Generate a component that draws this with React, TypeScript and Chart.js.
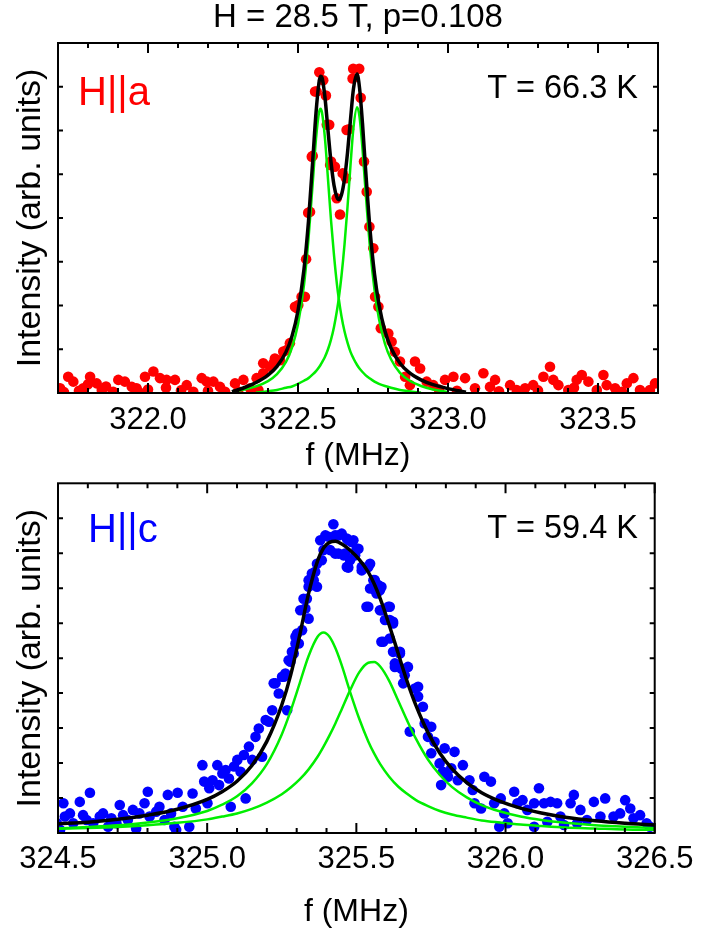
import React, { useEffect, useRef } from 'react';
import { Chart, registerables } from 'chart.js';

Chart.register(...registerables);

const FONT = '"Liberation Sans", Arial, Helvetica, sans-serif';
const GREEN = '#00ee00';

// ---------------- top panel (H || a) ----------------
const topTickLabels = ['322.0', '322.5', '323.0', '323.5'];

const topFreq = [
  321.707, 321.72, 321.734, 321.751, 321.77, 321.784, 321.80, 321.807, 321.829, 321.846, 321.86, 321.884,
  321.901, 321.923, 321.946, 321.962, 321.97, 321.99, 322.00, 322.018, 322.04, 322.06, 322.062, 322.09,
  322.11, 322.129, 322.151, 322.179, 322.196, 322.20, 322.218, 322.24, 322.257, 322.29, 322.30, 322.318,
  322.34, 322.362, 322.368, 322.384, 322.384, 322.407, 322.418, 322.423, 322.44, 322.451, 322.462, 322.473,
  322.49, 322.496, 322.501, 322.512, 322.523, 322.527, 322.534, 322.54, 322.546, 322.549, 322.557, 322.562,
  322.571, 322.584, 322.593, 322.596, 322.604, 322.607, 322.61, 322.623, 322.629, 322.64, 322.649, 322.66,
  322.662, 322.67, 322.682, 322.684, 322.704, 322.709, 322.72, 322.729, 322.738, 322.751, 322.757, 322.768,
  322.776, 322.801, 322.812, 322.823, 322.84, 322.857, 322.873, 322.89, 322.907, 322.929, 322.951, 322.97,
  322.99, 323.018, 323.03, 323.057, 323.09, 323.118, 323.14, 323.157, 323.17, 323.207, 323.229, 323.257,
  323.284, 323.30, 323.318, 323.34, 323.351, 323.368, 323.401, 323.42, 323.429, 323.446, 323.468, 323.496,
  323.518, 323.529, 323.557, 323.58, 323.596, 323.618, 323.64, 323.673, 323.69,
];
const topIntensity = [
  0.11, 0.02, 0.37, 0.26, 0.05, 0.11, 0.20, 0.37, 0.22, 0.07, 0.15, 0.03,
  0.30, 0.26, 0.14, 0.11, 0.02, 0.37, 0.08, 0.49, 0.34, 0.12, 0.30, 0.30,
  0.06, 0.18, 0.03, 0.34, 0.26, 0.05, 0.26, 0.14, 0.03, 0.22, 0.04, 0.30,
  0.11, 0.34, 0.07, 0.45, 0.68, 0.60, 0.68, 0.79, 0.75, 0.95, 0.98, 1.14,
  1.97, 1.94, 2.01, 2.20, 2.20, 3.06, 4.12, 4.14, 5.40, 5.42, 6.89, 6.89,
  7.33, 7.15, 6.80, 6.13, 6.13, 5.21, 5.29, 5.17, 4.45, 4.08, 5.02, 4.91,
  6.01, 6.03, 7.19, 7.41, 7.41, 6.75, 5.29, 4.60, 3.80, 3.31, 2.20, 1.97,
  1.48, 1.36, 1.17, 0.94, 0.72, 0.37, 0.18, 0.72, 0.56, 0.26, 0.18, 0.08,
  0.30, 0.37, 0.05, 0.34, 0.11, 0.45, 0.14, 0.30, 0.04, 0.18, 0.07, 0.11,
  0.18, 0.06, 0.37, 0.60, 0.30, 0.18, 0.07, 0.12, 0.30, 0.41, 0.26, 0.07,
  0.41, 0.18, 0.11, 0.03, 0.22, 0.34, 0.07, 0.07, 0.22,
];

const topFitFreq = [
  322.28, 322.32, 322.36, 322.40, 322.43, 322.46, 322.48, 322.50, 322.52, 322.535, 322.55, 322.56, 322.57,
  322.575, 322.58, 322.59, 322.60, 322.61, 322.62, 322.63, 322.636, 322.645, 322.655, 322.665, 322.675,
  322.685, 322.697, 322.705, 322.715, 322.725, 322.74, 322.755, 322.77, 322.79, 322.81, 322.84, 322.87,
  322.91, 322.95, 323.00, 323.06,
];
const topFitTotal = [
  0.03, 0.12, 0.24, 0.41, 0.61, 0.94, 1.30, 1.88, 2.83, 3.93, 5.40, 6.40, 7.10,
  7.24, 7.21, 6.75, 6.00, 5.28, 4.75, 4.47, 4.42, 4.53, 4.89, 5.49, 6.25,
  6.96, 7.29, 6.98, 6.16, 5.14, 3.74, 2.72, 2.02, 1.41, 1.03, 0.68, 0.47,
  0.30, 0.19, 0.10, 0.02,
];
const topFitPeak1 = [
  0.03, 0.08, 0.15, 0.27, 0.43, 0.71, 1.04, 1.57, 2.47, 3.53, 4.89, 5.81, 6.41,
  6.50, 6.41, 5.81, 4.89, 3.95, 3.15, 2.47, 2.15, 1.75, 1.41, 1.15, 0.94,
  0.79, 0.64, 0.56, 0.48, 0.41, 0.33, 0.26, 0.21, 0.16, 0.12, 0.07, 0.04,
  0.01, null, null, null,
];
const topFitPeak2 = [
  null, null, 0.01, 0.04, 0.07, 0.12, 0.15, 0.21, 0.28, 0.34, 0.43, 0.50, 0.59,
  0.64, 0.70, 0.83, 1.00, 1.22, 1.51, 1.89, 2.17, 2.68, 3.39, 4.25, 5.21,
  6.07, 6.53, 6.32, 5.58, 4.63, 3.32, 2.36, 1.69, 1.12, 0.77, 0.46, 0.29,
  0.16, 0.08, 0.02, null,
];

// ---------------- bottom panel (H || c) ----------------
const bottomTickLabels = ['324.5', '325.0', '325.5', '326.0', '326.5'];

const bottomFreq = [
  324.496, 324.507, 324.518, 324.523, 324.54, 324.551, 324.573, 324.584, 324.596, 324.607, 324.618, 324.64,
  324.651, 324.668, 324.679, 324.696, 324.707, 324.718, 324.734, 324.751, 324.762, 324.773, 324.79, 324.801,
  324.807, 324.829, 324.84, 324.857, 324.868, 324.879, 324.89, 324.896, 324.901, 324.918, 324.94, 324.951,
  324.962, 324.984, 324.99, 325.001, 325.007, 325.018, 325.034, 325.04, 325.051, 325.062, 325.073, 325.079,
  325.09, 325.101, 325.112, 325.123, 325.129, 325.14, 325.151, 325.162, 325.173, 325.184, 325.196, 325.207,
  325.218, 325.223, 325.229, 325.24, 325.251, 325.257, 325.262, 325.268, 325.273, 325.279, 325.284, 325.29,
  325.296, 325.296, 325.301, 325.307, 325.312, 325.318, 325.323, 325.329, 325.334, 325.34, 325.34, 325.34,
  325.351, 325.357, 325.362, 325.368, 325.368, 325.379, 325.384, 325.39, 325.396, 325.407, 325.412, 325.423,
  325.429, 325.429, 325.44, 325.44, 325.451, 325.457, 325.462, 325.468, 325.468, 325.473, 325.473, 325.479,
  325.484, 325.49, 325.496, 325.501, 325.507, 325.518, 325.518, 325.534, 325.54, 325.54, 325.546, 325.546,
  325.557, 325.562, 325.562, 325.568, 325.573, 325.579, 325.579, 325.584, 325.584, 325.584, 325.59, 325.596,
  325.607, 325.612, 325.612, 325.612, 325.623, 325.623, 325.623, 325.629, 325.629, 325.646, 325.646, 325.651,
  325.657, 325.662, 325.673, 325.679, 325.696, 325.707, 325.707, 325.723, 325.729, 325.74, 325.751, 325.751,
  325.762, 325.779, 325.784, 325.79, 325.796, 325.807, 325.818, 325.829, 325.84, 325.857, 325.879, 325.89,
  325.896, 325.918, 325.929, 325.951, 325.962, 325.979, 325.984, 325.996, 326.007, 326.029, 326.04, 326.057,
  326.073, 326.096, 326.096, 326.112, 326.129, 326.14, 326.151, 326.173, 326.184, 326.196, 326.218, 326.229,
  326.24, 326.251, 326.273, 326.296, 326.318, 326.334, 326.362, 326.384, 326.401, 326.418, 326.429, 326.451,
  326.473, 326.484,
];
const bottomIntensity = [
  0.28, 0.09, 0.85, 0.47, 0.56, 0.28, 0.89, 0.51, 0.37, 1.15, 0.28, 0.47,
  0.56, 0.18, 0.42, 0.28, 0.80, 0.51, 0.37, 0.66, 0.13, 0.56, 0.85, 1.18,
  0.47, 0.61, 0.75, 0.37, 1.09, 0.56, 0.18, 0.09, 1.15, 0.75, 0.18, 1.13,
  0.70, 1.94, 1.47, 0.85, 1.28, 1.51, 1.94, 1.37, 1.70, 1.80, 1.56, 0.75,
  1.90, 2.09, 1.75, 2.23, 0.99, 2.47, 2.09, 2.75, 2.99, 2.18, 3.23, 3.18,
  3.51, 4.28, 4.28, 3.99, 4.47, 4.47, 4.56, 3.51, 4.94, 4.90, 5.18, 5.13,
  5.42, 5.61, 5.70, 5.42, 6.37, 5.80, 6.70, 6.42, 6.70, 7.04, 7.23, 6.13,
  7.42, 7.23, 7.47, 7.70, 7.04, 8.37, 7.80, 8.09, 8.51, 8.47, 8.09, 8.83,
  8.51, 7.99, 7.99, 8.51, 8.56, 7.94, 7.99, 7.61, 8.42, 8.37, 7.59, 7.80,
  8.32, 8.37, 7.94, 8.13, 8.13, 7.61, 7.51, 6.47, 6.47, 7.61, 7.70, 6.99,
  7.23, 6.94, 7.23, 6.85, 7.09, 6.94, 6.37, 6.37, 7.04, 5.47, 5.47, 6.09,
  6.47, 6.47, 6.09, 5.56, 5.99, 5.18, 6.04, 4.75, 4.85, 5.18, 5.13, 4.70,
  4.28, 4.51, 4.75, 2.90, 4.13, 3.90, 4.18, 3.61, 3.13, 2.75, 3.04, 2.28,
  2.61, 1.99, 1.37, 1.75, 2.42, 1.61, 1.85, 2.32, 1.51, 1.94, 1.51, 1.23,
  0.85, 0.70, 1.61, 1.47, 0.85, 0.18, 0.99, 0.56, 0.28, 1.18, 0.85, 0.94,
  0.66, 0.85, 0.18, 1.28, 0.85, 0.32, 0.89, 0.85, 0.47, 0.23, 0.85, 1.09,
  0.28, 0.66, 0.37, 0.89, 0.47, 0.99, 0.47, 0.56, 0.94, 0.70, 0.42, 0.51,
  0.28, 0.18,
];

const bottomFitFreq = [
  324.5, 324.6, 324.7, 324.8, 324.9, 325.0, 325.05, 325.1, 325.15, 325.2, 325.25, 325.28, 325.31, 325.34,
  325.37, 325.39, 325.41, 325.43, 325.45, 325.48, 325.51, 325.54, 325.56, 325.58, 325.61, 325.64, 325.67,
  325.70, 325.74, 325.78, 325.82, 325.87, 325.92, 325.98, 326.05, 326.12, 326.2, 326.3, 326.4, 326.5,
];
const bottomFitTotal = [
  0.26, 0.31, 0.39, 0.51, 0.68, 0.96, 1.18, 1.48, 1.93, 2.62, 3.66, 4.52, 5.65, 6.85,
  7.78, 8.15, 8.31, 8.34, 8.27, 8.08, 7.82, 7.46, 7.12, 6.70, 5.95, 5.14, 4.34,
  3.64, 2.87, 2.28, 1.84, 1.44, 1.15, 0.91, 0.71, 0.57, 0.45, 0.35, 0.28, 0.23,
];
const bottomFitPeak1 = [
  0.13, 0.17, 0.22, 0.30, 0.42, 0.63, 0.81, 1.05, 1.42, 1.97, 2.82, 3.50, 4.28, 5.06,
  5.61, 5.73, 5.61, 5.28, 4.82, 4.01, 3.26, 2.62, 2.27, 1.97, 1.61, 1.33, 1.12,
  0.94, 0.77, 0.63, 0.53, 0.44, 0.36, 0.30, 0.24, 0.20, 0.16, 0.13, 0.10, 0.09,
];
const bottomFitPeak2 = [
  0.12, 0.14, 0.17, 0.22, 0.29, 0.39, 0.47, 0.56, 0.69, 0.87, 1.11, 1.30, 1.53, 1.82,
  2.18, 2.47, 2.79, 3.14, 3.52, 4.10, 4.60, 4.87, 4.89, 4.76, 4.35, 3.79, 3.22,
  2.69, 2.10, 1.66, 1.32, 1.02, 0.80, 0.62, 0.47, 0.37, 0.29, 0.22, 0.18, 0.14,
];

type PanelCfg = {
  top: number;
  height: number;
  title?: string;
  padTop: number;
  xScaleHeight: number;
  xMin: number;
  xMax: number;
  yMax: number;
  tickLabels: string[];
  tickPadding: number;
  xTitlePadBottom: number;
  freq: number[];
  intensity: number[];
  fitFreq: number[];
  fitTotal: (number | null)[];
  fitPeak1: (number | null)[];
  fitPeak2: (number | null)[];
  pointColor: string;
  label: string;
  labelX: number;
  labelY: number;
  tempText: string;
  tempRight: number;
  tempY: number;
};

const toPoints = (xs: number[], ys: (number | null)[]) =>
  xs.map((x, i) => ({ x, y: ys[i] })).filter((p) => p.y !== null && p.y !== undefined) as { x: number; y: number }[];

const isMajor = (v: number) => Math.abs(v * 2 - Math.round(v * 2)) < 1e-6;

function Panel({ cfg }: { cfg: PanelCfg }) {
  const ref = useRef<HTMLCanvasElement | null>(null);
  useEffect(() => {
    if (!ref.current) return;
    const framePlugin = {
      id: 'frameTicks',
      afterDatasetsDraw(chart: any) {
        const { ctx, chartArea: a, scales } = chart;
        const x = scales.x;
        const y = scales.y;
        ctx.save();
        ctx.strokeStyle = '#000';
        ctx.lineWidth = 2;
        ctx.beginPath();
        x.ticks.forEach((t: any) => {
          const px = x.getPixelForValue(t.value);
          const len = isMajor(t.value) ? 10 : 5;
          ctx.moveTo(px, a.bottom);
          ctx.lineTo(px, a.bottom - len);
          ctx.moveTo(px, a.top);
          ctx.lineTo(px, a.top + len);
        });
        y.ticks.forEach((t: any, i: number) => {
          if (i === 0 || i === y.ticks.length - 1) return;
          const py = y.getPixelForValue(t.value);
          ctx.moveTo(a.left, py);
          ctx.lineTo(a.left + 5, py);
          ctx.moveTo(a.right, py);
          ctx.lineTo(a.right - 5, py);
        });
        ctx.stroke();
        ctx.strokeRect(a.left, a.top, a.right - a.left, a.bottom - a.top);

        ctx.textBaseline = 'alphabetic';
        ctx.font = `40px ${FONT}`;
        ctx.fillStyle = cfg.pointColor;
        ctx.textAlign = 'left';
        ctx.fillText(cfg.label, cfg.labelX, cfg.labelY);

        ctx.font = `32.5px ${FONT}`;
        ctx.fillStyle = '#000';
        ctx.textAlign = 'right';
        ctx.fillText(cfg.tempText, cfg.tempRight, cfg.tempY);
        ctx.restore();
      },
    };

    const chart = new Chart(ref.current, {
      type: 'scatter',
      data: {
        datasets: [
          {
            label: 'fit',
            data: toPoints(cfg.fitFreq, cfg.fitTotal),
            showLine: true,
            borderColor: '#000',
            borderWidth: 3.5,
            pointRadius: 0,
            cubicInterpolationMode: 'monotone',
            order: 0,
            clip: 0,
          } as any,
          {
            label: 'peak 1',
            data: toPoints(cfg.fitFreq, cfg.fitPeak1),
            showLine: true,
            borderColor: GREEN,
            borderWidth: 2.5,
            pointRadius: 0,
            cubicInterpolationMode: 'monotone',
            order: 1,
            clip: 0,
          } as any,
          {
            label: 'peak 2',
            data: toPoints(cfg.fitFreq, cfg.fitPeak2),
            showLine: true,
            borderColor: GREEN,
            borderWidth: 2.5,
            pointRadius: 0,
            cubicInterpolationMode: 'monotone',
            order: 1,
            clip: 0,
          } as any,
          {
            label: 'data',
            data: toPoints(cfg.freq, cfg.intensity),
            showLine: false,
            backgroundColor: cfg.pointColor,
            borderWidth: 0,
            pointRadius: 5.3,
            order: 2,
            clip: 0,
          } as any,
        ],
      },
      options: {
        responsive: false,
        animation: false,
        events: [],
        layout: { padding: { top: cfg.padTop, right: 43, left: 0, bottom: 0 } },
        plugins: {
          legend: { display: false },
          tooltip: { enabled: false },
          title: cfg.title
            ? {
                display: true,
                fullSize: false,
                text: cfg.title,
                color: '#000',
                font: { family: FONT, size: 33, weight: 'normal', lineHeight: 1 },
                padding: { top: 1, bottom: 9 },
              }
            : { display: false },
        },
        scales: {
          x: {
            type: 'linear',
            position: 'bottom',
            min: cfg.xMin,
            max: cfg.xMax,
            grid: { display: false, drawTicks: false },
            border: { display: false },
            ticks: {
              stepSize: 0.1,
              autoSkip: false,
              maxRotation: 0,
              minRotation: 0,
              maxTicksLimit: 100,
              padding: cfg.tickPadding,
              color: '#000',
              font: { family: FONT, size: 31, lineHeight: 1.2 },
              callback: (value: any) => {
                const s = Number(value).toFixed(1);
                return cfg.tickLabels.includes(s) ? s : '';
              },
            },
            title: {
              display: true,
              text: 'f (MHz)',
              color: '#000',
              font: { family: FONT, size: 32, lineHeight: 1.2 },
              padding: { top: 0, bottom: cfg.xTitlePadBottom },
            },
            afterFit: (s: any) => {
              s.height = cfg.xScaleHeight;
            },
          },
          y: {
            type: 'linear',
            position: 'left',
            min: 0,
            max: cfg.yMax,
            grid: { display: false, drawTicks: false },
            border: { display: false },
            ticks: { display: false, stepSize: 1 },
            title: {
              display: true,
              text: 'Intensity (arb. units)',
              color: '#000',
              font: { family: FONT, size: 34, lineHeight: 1.2 },
              padding: { top: 10, bottom: 0 },
            },
            afterFit: (s: any) => {
              s.width = 58;
            },
          },
        },
      } as any,
      plugins: [framePlugin],
    });
    return () => chart.destroy();
  }, []);
  return (
    <canvas
      ref={ref}
      width={701}
      height={cfg.height}
      style={{ position: 'absolute', left: 0, top: cfg.top, width: 701, height: cfg.height, display: 'block' }}
    />
  );
}

const topCfg: PanelCfg = {
  top: 0,
  height: 478,
  title: 'H = 28.5 T, p=0.108',
  padTop: 0,
  xScaleHeight: 85,
  xMin: 321.7,
  xMax: 323.7,
  yMax: 8,
  tickLabels: topTickLabels,
  tickPadding: 9,
  xTitlePadBottom: 2.8,
  freq: topFreq,
  intensity: topIntensity,
  fitFreq: topFitFreq,
  fitTotal: topFitTotal,
  fitPeak1: topFitPeak1,
  fitPeak2: topFitPeak2,
  pointColor: '#ff0000',
  label: 'H||a',
  labelX: 78,
  labelY: 105,
  tempText: 'T = 66.3 K',
  tempRight: 638,
  tempY: 98,
};

const bottomCfg: PanelCfg = {
  top: 478,
  height: 455,
  padTop: 5,
  xScaleHeight: 100,
  xMin: 324.5,
  xMax: 326.5,
  yMax: 10,
  tickLabels: bottomTickLabels,
  tickPadding: 7.5,
  xTitlePadBottom: 1.8,
  freq: bottomFreq,
  intensity: bottomIntensity,
  fitFreq: bottomFitFreq,
  fitTotal: bottomFitTotal,
  fitPeak1: bottomFitPeak1,
  fitPeak2: bottomFitPeak2,
  pointColor: '#0000ff',
  label: 'H||c',
  labelX: 88,
  labelY: 64,
  tempText: 'T = 59.4 K',
  tempRight: 638,
  tempY: 60,
};

export default function App() {
  return (
    <div style={{ position: 'absolute', left: 0, top: 0, width: 701, height: 933, background: '#fff' }}>
      <Panel cfg={topCfg} />
      <Panel cfg={bottomCfg} />
    </div>
  );
}
